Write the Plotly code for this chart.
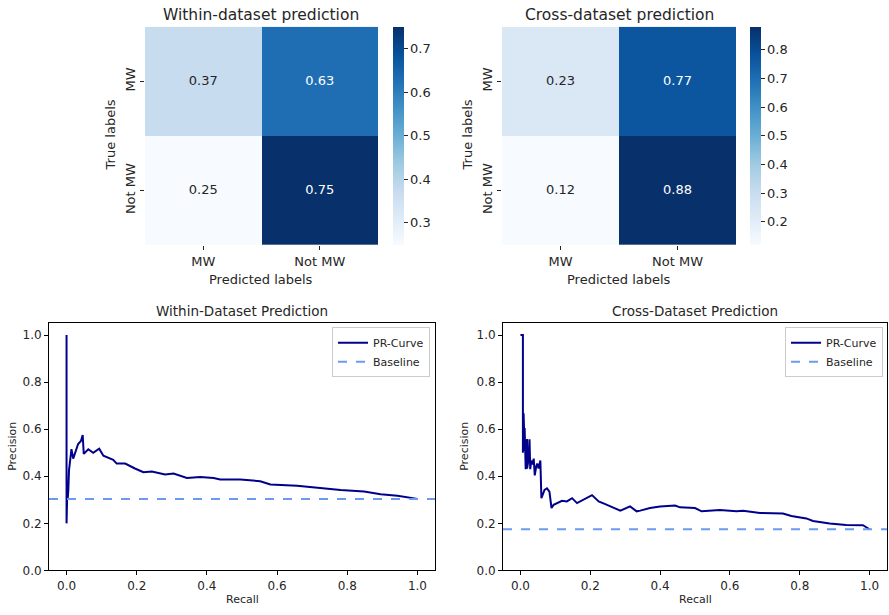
import plotly.graph_objects as go

W, H = 889, 615

# ---------------- data ----------------
labels = ["MW", "Not MW"]
within_cm = [[0.37, 0.63], [0.25, 0.75]]
cross_cm = [[0.23, 0.77], [0.12, 0.88]]

within_recall = [0.0, 0.0, 0.002, 0.003, 0.005, 0.007, 0.010, 0.014, 0.019, 0.026,
                 0.033, 0.041, 0.046, 0.049, 0.062, 0.076, 0.093, 0.105, 0.133, 0.143,
                 0.167, 0.195, 0.219, 0.243, 0.281, 0.305, 0.324, 0.343, 0.381, 0.419,
                 0.438, 0.495, 0.552, 0.581, 0.657, 0.724, 0.781, 0.848, 0.895, 0.943,
                 1.0]
within_precision = [1.0, 0.20, 0.33, 0.30, 0.34, 0.425, 0.475, 0.515, 0.475, 0.51,
                    0.537, 0.55, 0.575, 0.495, 0.515, 0.50, 0.517, 0.487, 0.47, 0.454,
                    0.454, 0.433, 0.417, 0.42, 0.408, 0.412, 0.404, 0.393, 0.397, 0.393,
                    0.386, 0.386, 0.379, 0.365, 0.36, 0.349, 0.342, 0.335, 0.324, 0.317,
                    0.304]
within_baseline = 0.304

cross_recall = [0.0, 0.007, 0.007, 0.009, 0.012, 0.012, 0.015, 0.019, 0.019, 0.023,
                0.026, 0.028, 0.031, 0.035, 0.038, 0.041, 0.045, 0.048, 0.052, 0.057,
                0.060, 0.069, 0.076, 0.083, 0.089, 0.095, 0.119, 0.133, 0.148, 0.162,
                0.205, 0.224, 0.243, 0.257, 0.286, 0.314, 0.333, 0.343, 0.371, 0.400,
                0.443, 0.457, 0.500, 0.519, 0.571, 0.619, 0.638, 0.686, 0.752, 0.776,
                0.819, 0.838, 0.886, 0.933, 0.981, 1.0]
cross_precision = [1.0, 1.0, 0.50, 0.668, 0.508, 0.605, 0.43, 0.558, 0.433, 0.47,
                   0.557, 0.43, 0.467, 0.45, 0.475, 0.404, 0.44, 0.454, 0.433, 0.467,
                   0.307, 0.342, 0.349, 0.335, 0.265, 0.279, 0.296, 0.293, 0.307, 0.286,
                   0.32, 0.293, 0.282, 0.272, 0.254, 0.272, 0.251, 0.254, 0.265, 0.272,
                   0.276, 0.268, 0.265, 0.251, 0.257, 0.251, 0.254, 0.244, 0.242, 0.231,
                   0.221, 0.21, 0.199, 0.193, 0.192, 0.175]
cross_baseline = 0.175

pr_ticks = [0.0, 0.2, 0.4, 0.6, 0.8, 1.0]

# ---------------- style ----------------
FONT = "DejaVu Sans"
TXT = "#262626"
blues = ["#f7fbff", "#deebf7", "#c6dbef", "#9ecae1", "#6baed6",
         "#4292c6", "#2171b5", "#08519c", "#08306b"]
blues_scale = [[i / 8, c] for i, c in enumerate(blues)]


def px_x(p):
    return p / W


def px_y(p):
    return 1 - p / H


fig = go.Figure()

# ---------------- heatmaps ----------------
heat_specs = [
    dict(cm=within_cm, xa="x", ya="y", cbx=393,
         ticks=[0.3, 0.4, 0.5, 0.6, 0.7]),
    dict(cm=cross_cm, xa="x2", ya="y2", cbx=750,
         ticks=[0.2, 0.3, 0.4, 0.5, 0.6, 0.7, 0.8]),
]
for s in heat_specs:
    cm = s["cm"]
    flat = [v for row in cm for v in row]
    zmin, zmax = min(flat), max(flat)
    fig.add_trace(go.Heatmap(
        z=cm, x=labels, y=labels, xaxis=s["xa"], yaxis=s["ya"],
        colorscale=blues_scale, zmin=zmin, zmax=zmax, hoverinfo="skip",
        colorbar=dict(
            x=px_x(s["cbx"]), xanchor="left", xpad=0, ypad=0,
            y=px_y(27), yanchor="top", len=(248 - 27) / H, lenmode="fraction",
            thickness=11, thicknessmode="pixels", outlinewidth=0,
            tickvals=s["ticks"], ticktext=[f"{t:.1f}" for t in s["ticks"]],
            ticks="outside", ticklen=4, tickcolor=TXT,
            tickfont=dict(family=FONT, size=13, color=TXT),
        ),
    ))
    mid = (zmin + zmax) / 2
    xs, ys, texts, colors = [], [], [], []
    for i, row in enumerate(cm):
        for j, v in enumerate(row):
            xs.append(labels[j])
            ys.append(labels[i])
            texts.append(f"{v:.2f}")
            colors.append("white" if v > mid else TXT)
    fig.add_trace(go.Scatter(
        x=xs, y=ys, text=texts, mode="text", xaxis=s["xa"], yaxis=s["ya"],
        textfont=dict(family=FONT, size=13, color=colors),
        showlegend=False, hoverinfo="skip",
    ))

# ---------------- PR curves ----------------
fig.add_trace(go.Scatter(
    x=within_recall, y=within_precision, mode="lines", name="PR-Curve",
    line=dict(color="#00008b", width=2), xaxis="x3", yaxis="y3", legend="legend",
))
fig.add_trace(go.Scatter(
    x=[-0.05, 1.05], y=[within_baseline, within_baseline], mode="lines", name="Baseline",
    line=dict(color="#6b9bf0", width=2, dash="dash"), xaxis="x3", yaxis="y3",
    legend="legend",
))
fig.add_trace(go.Scatter(
    x=cross_recall, y=cross_precision, mode="lines", name="PR-Curve",
    line=dict(color="#00008b", width=2), xaxis="x4", yaxis="y4", legend="legend2",
))
fig.add_trace(go.Scatter(
    x=[-0.05, 1.05], y=[cross_baseline, cross_baseline], mode="lines", name="Baseline",
    line=dict(color="#6b9bf0", width=2, dash="dash"), xaxis="x4", yaxis="y4",
    legend="legend2",
))

tickfont = dict(family=FONT, size=12, color=TXT)
heat_axis_common = dict(type="category", ticks="outside", ticklen=4, tickcolor=TXT,
                        showline=False, showgrid=False, zeroline=False,
                        tickfont=dict(family=FONT, size=13, color=TXT))
pr_axis_common = dict(showline=True, linecolor="#000", linewidth=1, mirror=True,
                      ticks="outside", ticklen=4, tickcolor="#000", showgrid=False,
                      zeroline=False, tickfont=tickfont, tickvals=pr_ticks,
                      ticktext=[f"{t:.1f}" for t in pr_ticks])

fig.update_layout(
    width=W, height=H, margin=dict(l=0, r=0, t=0, b=0),
    paper_bgcolor="white", plot_bgcolor="white",
    font=dict(family=FONT, color=TXT),
    xaxis=dict(domain=[px_x(145), px_x(378)], anchor="y", **heat_axis_common),
    yaxis=dict(domain=[px_y(248), px_y(27)], anchor="x", autorange="reversed",
               tickangle=-90, **heat_axis_common),
    xaxis2=dict(domain=[px_x(502), px_x(736)], anchor="y2", **heat_axis_common),
    yaxis2=dict(domain=[px_y(248), px_y(27)], anchor="x2", autorange="reversed",
                tickangle=-90, **heat_axis_common),
    xaxis3=dict(domain=[px_x(49), px_x(435)], anchor="y3", range=[-0.05, 1.05],
                **pr_axis_common),
    yaxis3=dict(domain=[px_y(577), px_y(327)], anchor="x3", range=[0, 1.05],
                **pr_axis_common),
    xaxis4=dict(domain=[px_x(503), px_x(887)], anchor="y4", range=[-0.05, 1.05],
                **pr_axis_common),
    yaxis4=dict(domain=[px_y(577), px_y(327)], anchor="x4", range=[0, 1.05],
                **pr_axis_common),
    legend=dict(x=px_x(430), xanchor="right", y=px_y(331), yanchor="top",
                bgcolor="rgba(255,255,255,0.8)", bordercolor="#cccccc", borderwidth=1,
                font=dict(family=FONT, size=11, color=TXT), tracegroupgap=0,
                itemwidth=30),
    legend2=dict(x=px_x(883), xanchor="right", y=px_y(331), yanchor="top",
                 bgcolor="rgba(255,255,255,0.8)", bordercolor="#cccccc", borderwidth=1,
                 font=dict(family=FONT, size=11, color=TXT), tracegroupgap=0,
                 itemwidth=30),
)

annotations = [
    dict(text="Within-dataset prediction", x=px_x(261), y=px_y(15), size=15.5),
    dict(text="Cross-dataset prediction", x=px_x(619), y=px_y(15), size=15.5),
    dict(text="Predicted labels", x=px_x(261), y=px_y(283), size=13),
    dict(text="Predicted labels", x=px_x(619), y=px_y(283), size=13),
    dict(text="True labels", x=px_x(110), y=px_y(137), size=13, angle=-90),
    dict(text="True labels", x=px_x(467), y=px_y(137), size=13, angle=-90),
    dict(text="Within-Dataset Prediction", x=px_x(242), y=px_y(315), size=13.5),
    dict(text="Cross-Dataset Prediction", x=px_x(695), y=px_y(315), size=13.5),
    dict(text="Recall", x=px_x(242), y=px_y(606), size=11),
    dict(text="Recall", x=px_x(695), y=px_y(606), size=11),
    dict(text="Precision", x=px_x(13), y=px_y(452), size=11, angle=-90),
    dict(text="Precision", x=px_x(465), y=px_y(452), size=11, angle=-90),
]
for a in annotations:
    fig.add_annotation(text=a["text"], x=a["x"], y=a["y"], xref="paper", yref="paper",
                       xanchor="center", yanchor="middle", showarrow=False,
                       textangle=a.get("angle", 0),
                       font=dict(family=FONT, size=a["size"], color=TXT))

fig.write_html(
    "out.html",
    config={"displayModeBar": False},
    post_script="document.body.style.margin='0';document.body.style.overflow='hidden';",
)
